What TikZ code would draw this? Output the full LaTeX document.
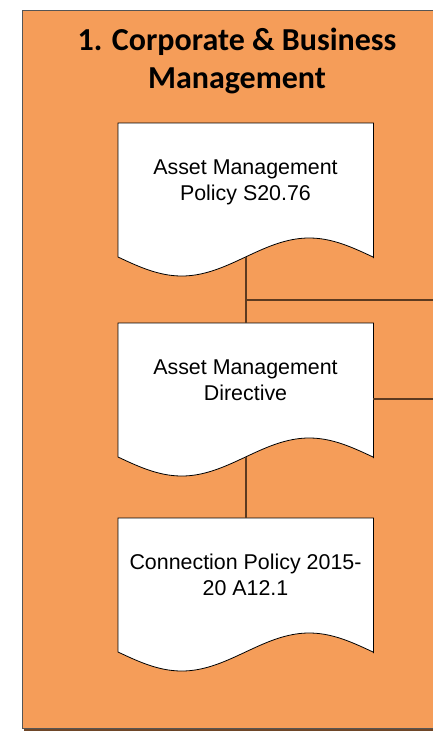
\documentclass[tikz,border=0pt]{standalone}
\usepackage{fontspec}
\setmainfont{Liberation Sans}
\newfontfamily\titlefont{Carlito}
\definecolor{panelorange}{RGB}{245,157,89}
\definecolor{panelborder}{RGB}{85,85,85}
\definecolor{panelshadow}{RGB}{110,70,40}
\definecolor{connbrown}{RGB}{92,58,32}
\tikzset{
  panel/.style={fill=panelorange, draw=panelborder, line width=1pt},
  docbox/.style={minimum width=255pt, minimum height=134pt, inner sep=0pt, draw=none},
  docline/.style={fill=white, draw=black, line width=0.8pt},
  doctext/.style={font=\fontsize{21.4}{26}\selectfont, align=center, anchor=base, inner sep=0pt},
  conn/.style={draw=connbrown, line width=1.6pt},
  titletext/.style={font=\titlefont\bfseries\fontsize{32}{38}\selectfont, align=center, anchor=base, inner sep=0pt}
}
\newcommand\mydoc[3]{%
  \node[docbox, anchor=north west] (#1) at (118,#2) {};
  \filldraw[docline] (#1.north west) -- (#1.north east) -- (#1.south east)
    -- plot[domain=360:0, samples=80] ({118+0.708333*\x},{#2+134+19*sin(\x)}) -- cycle;
  \node[doctext] (#1t) at (245.5,#2+77) {#3};
}
\begin{document}
\begin{tikzpicture}[x=1pt, y=-1pt]
\useasboundingbox (0,0) rectangle (432,731);
\fill[panelshadow] (24,13) rectangle (450,730.5);
\node[panel, anchor=north west, minimum width=428pt, minimum height=718pt, inner sep=0pt] (panel) at (22,10) {};
\node[titletext] (title) at (237,88) {1. Corporate \& Business\\Management};
\mydoc{d1}{123}{Asset Management\\Policy S20.76}
\mydoc{d2}{323}{Asset Management\\Directive}
\mydoc{d3}{518}{Connection Policy 2015-\\20 A12.1}
\coordinate (j1) at (245.5,300);
\coordinate (e1) at (450,300);
\coordinate (c2) at (373,399);
\coordinate (e2) at (450,399);
\draw[conn] (d1.south) -- (d2.north);
\draw[conn] (j1) -- (e1);
\draw[conn] (c2) -- (e2);
\draw[conn] (d2.south) -- (d3.north);
\end{tikzpicture}
\end{document}
